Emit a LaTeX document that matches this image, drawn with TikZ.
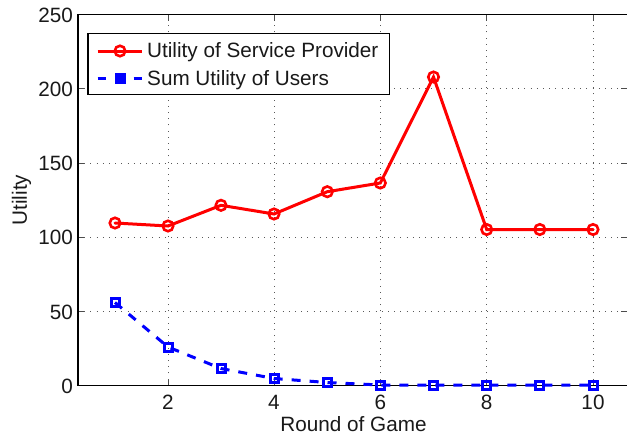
\documentclass[tikz,border=0pt]{standalone}
\usepackage{fontspec}
\setmainfont{Liberation Sans}
\definecolor{gridc}{gray}{0.35}
\tikzset{
 x=1pt,y=-1pt,
 frame/.style={line width=1.5pt,black},
 gridl/.style={line width=1pt,gridc,dash pattern=on 1pt off 5.2pt},
 tickl/.style={line width=1pt,black!70},
 lab/.style={font=\fontsize{20.7}{22}\selectfont,inner sep=0pt,text=black!90},
 redl/.style={line width=3pt,red,line cap=round},
 bluel/.style={line width=3pt,blue,dash pattern=on 9pt off 9pt},
 redm/.style={circle,draw=red,line width=2.6pt,minimum size=10.5pt,inner sep=0pt},
 bluem/.style={rectangle,draw=blue,line width=3pt,minimum size=8pt,inner sep=0pt},
}
\begin{document}
\begin{tikzpicture}
\useasboundingbox (0,0) rectangle (627,437);
% grid
\foreach \X in {168,274,380.3,486.7,593} \draw[gridl] (\X,385.7) -- (\X,14.5);
\foreach \Y in {311.5,237.2,163,88.7} \draw[gridl] (78,\Y) -- (627,\Y);
% ticks
\foreach \X in {168,274,380.3,486.7,593} {\draw[tickl] (\X,385.7) -- (\X,379.7); \draw[tickl] (\X,14.5) -- (\X,20.5);}
\foreach \Y in {311.5,237.2,163,88.7} {\draw[tickl] (78,\Y) -- (84,\Y); \draw[tickl] (627,\Y) -- (621,\Y);}
% frame
\draw[frame] (78,385.7) -- (78,14.5) -- (627,14.5);
\draw[frame] (78,385.7) -- (627,385.7);
% tick labels
\node[lab,anchor=east] (y0) at (73,386) {0};
\node[lab,anchor=east] (y50) at (73,312) {50};
\node[lab,anchor=east] (y100) at (73,237.5) {100};
\node[lab,anchor=east] (y150) at (73,163.5) {150};
\node[lab,anchor=east] (y200) at (73,89.5) {200};
\node[lab,anchor=east] (y250) at (73,15.5) {250};
\node[lab] (x2) at (168,402.5) {2};
\node[lab] (x4) at (274,402.5) {4};
\node[lab] (x6) at (380.3,402.5) {6};
\node[lab] (x8) at (486.7,402.5) {8};
\node[lab] (x10) at (593,402.5) {10};
\node[lab] (xt) at (353.5,424.5) {Round of Game};
\node[lab,rotate=90] (yt) at (21.5,200) {Utility};
% series
\draw[redl] (115,223) coordinate (r1) -- (168,226) coordinate (r2) -- (221,205.3) coordinate (r3) -- (274,214) coordinate (r4) -- (327.3,191.7) coordinate (r5) -- (380.3,183) coordinate (r6) -- (433.5,77) coordinate (r7) -- (486.7,229.5) coordinate (r8) -- (539.8,229.5) coordinate (r9) -- (593,229.5) coordinate (r10);
\foreach \n in {1,...,10} \node[redm] (rm\n) at (r\n) {};
\draw[bluel] (115,302.5) coordinate (b1) -- (168,347) coordinate (b2) -- (221,368.5) coordinate (b3) -- (274,378.5) coordinate (b4) -- (327.3,382.5) coordinate (b5) -- (380.3,385) coordinate (b6) -- (433.5,385.2) coordinate (b7) -- (486.7,385.2) coordinate (b8) -- (539.8,385.2) coordinate (b9) -- (593,385.2) coordinate (b10);
\foreach \n in {1,...,10} \node[bluem] (bm\n) at (b\n) {};
% legend
\draw[line width=1.4pt,black,fill=white] (88,33.7) rectangle (389.3,94.5);
\coordinate (la) at (97.5,51);
\coordinate (lb) at (142,51);
\coordinate (lc) at (97.5,78.3);
\coordinate (ld) at (142,78.3);
\draw[redl,line cap=butt] (la) -- (lb);
\node[redm] (lm1) at (120,51) {};
\draw[bluel,dash pattern=on 8.5pt off 27.5pt] (lc) -- (ld);
\node[bluem,fill=blue] (lm2) at (120,78.3) {};
\node[lab,anchor=west] (lt1) at (147,52.5) {Utility of Service Provider};
\node[lab,anchor=west] (lt2) at (147,80) {Sum Utility of Users};
\end{tikzpicture}
\end{document}
